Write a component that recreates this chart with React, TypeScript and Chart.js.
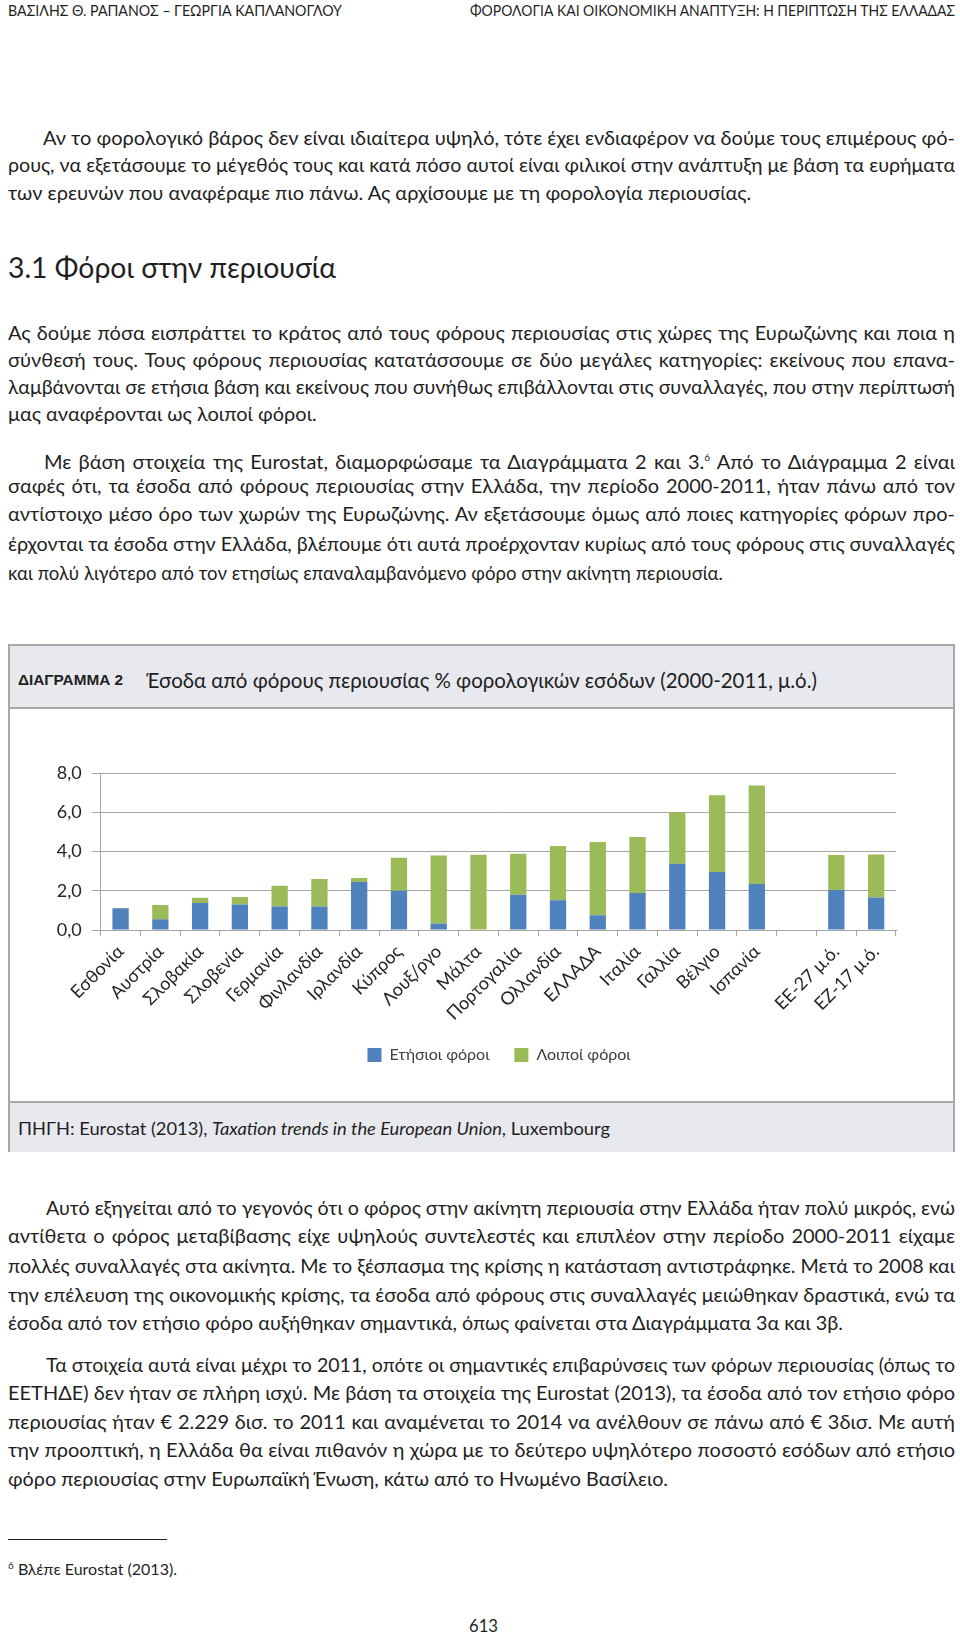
import React, { useEffect, useLayoutEffect, useRef } from "react";
import { Chart, registerables } from "chart.js";
Chart.register(...registerables);

// ---- chart data ----
const categories = [
  "Εσθονία", "Αυστρία", "Σλοβακία", "Σλοβενία", "Γερμανία", "Φινλανδία", "Ιρλανδία",
  "Κύπρος", "Λουξ/ργο", "Μάλτα", "Πορτογαλία", "Ολλανδία", "ΕΛΛΑΔΑ", "Ιταλία",
  "Γαλλία", "Βέλγιο", "Ισπανία", "", "ΕΕ-27 μ.ό.", "ΕΖ-17 μ.ό.",
];
const annualTaxes = [1.11, 0.55, 1.37, 1.30, 1.20, 1.20, 2.45, 2.00, 0.33, 0, 1.80, 1.52, 0.75, 1.88, 3.37, 2.95, 2.35, null, 2.04, 1.66];
const otherTaxes = [0, 0.73, 0.27, 0.38, 1.06, 1.40, 0.20, 1.68, 3.47, 3.84, 2.09, 2.76, 3.74, 2.86, 2.62, 3.92, 5.01, null, 1.78, 2.19];
const seriesNames = ["Ετήσιοι φόροι", "Λοιποί φόροι"];
const yTickLabels = ["0,0", "2,0", "4,0", "6,0", "8,0"];

const TEXT = "#1f1f1f";
const BODY_FONT = 'Lato, "Noto Sans", sans-serif';

type Spec = { t: React.ReactNode; x: number; y: number; w: number; size?: number; family?: string; weight?: number; mode?: "space" | "scale" | "none" };

function Line({ t, x, y, w, size = 20, family = BODY_FONT, weight = 400, mode = "space" }: Spec) {
  const ref = useRef<HTMLDivElement>(null);
  useLayoutEffect(() => {
    const el = ref.current;
    if (!el || mode === "none") return;
    el.style.wordSpacing = "0px";
    el.style.transform = "none";
    const natural = el.getBoundingClientRect().width;
    const spaces = ((el.textContent || "").match(/ /g) || []).length;
    const diff = w - natural;
    if (mode === "space" && spaces > 0 && diff >= 0) {
      el.style.wordSpacing = diff / spaces + "px";
    } else if (natural > 0) {
      el.style.transform = `scaleX(${w / natural})`;
    }
  }, [w]);
  const lh = Math.round(size * 1.3);
  return (
    <div
      ref={ref}
      style={{
        position: "absolute",
        left: x,
        top: y - lh / 2,
        height: lh,
        lineHeight: lh + "px",
        whiteSpace: "nowrap",
        fontSize: size,
        fontFamily: family,
        fontWeight: weight,
        color: TEXT,
        transformOrigin: "left center",
      }}
    >
      {t}
    </div>
  );
}

const IND = 44;
const FULLW = 947;
const bodyLines: Spec[] = [
  { t: "Αν το φορολογικό βάρος δεν είναι ιδιαίτερα υψηλό, τότε έχει ενδιαφέρον να δούμε τους επιμέρους φό-", x: 43, y: 137, w: 955 - 43 },
  { t: "ρους, να εξετάσουμε το μέγεθός τους και κατά πόσο αυτοί είναι φιλικοί στην ανάπτυξη με βάση τα ευρήματα", x: 8, y: 164, w: FULLW },
  { t: "των ερευνών που αναφέραμε πιο πάνω. Ας αρχίσουμε με τη φορολογία περιουσίας.", x: 8, y: 192, w: 0, mode: "none" },

  { t: "Ας δούμε πόσα εισπράττει το κράτος από τους φόρους περιουσίας στις χώρες της Ευρωζώνης και ποια η", x: 8, y: 332, w: FULLW },
  { t: "σύνθεσή τους. Τους φόρους περιουσίας κατατάσσουμε σε δύο μεγάλες κατηγορίες: εκείνους που επανα-", x: 8, y: 359, w: FULLW },
  { t: "λαμβάνονται σε ετήσια βάση και εκείνους που συνήθως επιβάλλονται στις συναλλαγές, που στην περίπτωσή", x: 8, y: 386, w: FULLW },
  { t: "μας αναφέρονται ως λοιποί φόροι.", x: 8, y: 413, w: 0, mode: "none" },

  { t: <>Με βάση στοιχεία της Eurostat, διαμορφώσαμε τα Διαγράμματα 2 και 3.<sup style={{ fontSize: 10, verticalAlign: 8 }}>6</sup> Από το Διάγραμμα 2 είναι</>, x: IND, y: 457, w: 955 - IND },
  { t: "σαφές ότι, τα έσοδα από φόρους περιουσίας στην Ελλάδα, την περίοδο 2000-2011, ήταν πάνω από τον", x: 8, y: 485, w: FULLW },
  { t: "αντίστοιχο μέσο όρο των χωρών της Ευρωζώνης. Αν εξετάσουμε όμως από ποιες κατηγορίες φόρων προ-", x: 8, y: 513, w: FULLW },
  { t: "έρχονται τα έσοδα στην Ελλάδα, βλέπουμε ότι αυτά προέρχονταν κυρίως από τους φόρους στις συναλλαγές", x: 8, y: 543, w: FULLW },
  { t: "και πολύ λιγότερο από τον ετησίως επαναλαμβανόμενο φόρο στην ακίνητη περιουσία.", x: 8, y: 572, w: 715 },

  { t: "Αυτό εξηγείται από το γεγονός ότι ο φόρος στην ακίνητη περιουσία στην Ελλάδα ήταν πολύ μικρός, ενώ", x: 46, y: 1207, w: 955 - 46 },
  { t: "αντίθετα ο φόρος μεταβίβασης είχε υψηλούς συντελεστές και επιπλέον στην περίοδο 2000-2011 είχαμε", x: 8, y: 1235, w: FULLW },
  { t: "πολλές συναλλαγές στα ακίνητα. Με το ξέσπασμα της κρίσης η κατάσταση αντιστράφηκε. Μετά το 2008 και", x: 8, y: 1265, w: FULLW },
  { t: "την επέλευση της οικονομικής κρίσης, τα έσοδα από φόρους στις συναλλαγές μειώθηκαν δραστικά, ενώ τα", x: 8, y: 1294, w: FULLW },
  { t: "έσοδα από τον ετήσιο φόρο αυξήθηκαν σημαντικά, όπως φαίνεται στα Διαγράμματα 3α και 3β.", x: 8, y: 1322, w: 835 },

  { t: "Τα στοιχεία αυτά είναι μέχρι το 2011, οπότε οι σημαντικές επιβαρύνσεις των φόρων περιουσίας (όπως το", x: 46, y: 1364, w: 955 - 46 },
  { t: "ΕΕΤΗΔΕ) δεν ήταν σε πλήρη ισχύ. Με βάση τα στοιχεία της Eurostat (2013), τα έσοδα από τον ετήσιο φόρο", x: 8, y: 1392, w: FULLW },
  { t: "περιουσίας ήταν € 2.229 δισ. το 2011 και αναμένεται το 2014 να ανέλθουν σε πάνω από € 3δισ. Με αυτή", x: 8, y: 1421, w: FULLW },
  { t: "την προοπτική, η Ελλάδα θα είναι πιθανόν η χώρα με το δεύτερο υψηλότερο ποσοστό εσόδων από ετήσιο", x: 8, y: 1449, w: FULLW },
  { t: "φόρο περιουσίας στην Ευρωπαϊκή Ένωση, κάτω από το Ηνωμένο Βασίλειο.", x: 8, y: 1478, w: 660 },
];

const otherLines: Spec[] = [
  { t: "ΒΑΣΙΛΗΣ Θ. ΡΑΠΑΝΟΣ – ΓΕΩΡΓΙΑ ΚΑΠΛΑΝΟΓΛΟΥ", x: 8, y: 9, w: 334, size: 16, mode: "scale" },
  { t: "ΦΟΡΟΛΟΓΙΑ ΚΑΙ ΟΙΚΟΝΟΜΙΚΗ ΑΝΑΠΤΥΞΗ: Η ΠΕΡΙΠΤΩΣΗ ΤΗΣ ΕΛΛΑΔΑΣ", x: 470, y: 9, w: 485, size: 16, mode: "scale" },
  { t: "3.1 Φόροι στην περιουσία", x: 8, y: 267, w: 328, size: 28, mode: "scale" },
  { t: "ΔΙΑΓΡΑΜΜΑ 2", x: 18, y: 680, w: 105, size: 14, weight: 700, family: '"Liberation Sans", Arial, sans-serif', mode: "scale" },
  { t: "Έσοδα από φόρους περιουσίας % φορολογικών εσόδων (2000-2011, μ.ό.)", x: 146, y: 679, w: 671, size: 22, mode: "scale" },
  { t: <>ΠΗΓΗ: Eurostat (2013), <i>Taxation trends in the European Union</i>, Luxembourg</>, x: 18, y: 1128, w: 592, size: 18, mode: "scale" },
  { t: <><sup style={{ fontSize: 10, verticalAlign: 6 }}>6</sup> Βλέπε Eurostat (2013).</>, x: 8, y: 1565, w: 169, size: 16, mode: "scale" },
  { t: "613", x: 469, y: 1626, w: 29, size: 17, mode: "scale" },
];

const legendShift = {
  id: "legendShift",
  afterLayout(chart: any) {
    const lg = chart.legend;
    if (!lg) return;
    const dx = 46;
    const dy = -13;
    lg.left += dx;
    lg.right += dx;
    lg.top += dy;
    lg.bottom += dy;
    if (lg.legendHitBoxes) {
      lg.legendHitBoxes.forEach((h: any) => { h.left += dx; h.top += dy; });
    }
  },
};

function BarChart() {
  const ref = useRef<HTMLCanvasElement>(null);
  useEffect(() => {
    if (!ref.current) return;
    const chart = new Chart(ref.current, {
      type: "bar",
      data: {
        labels: categories,
        datasets: [
          { label: seriesNames[0], data: annualTaxes as any, backgroundColor: "#4F81BD", barPercentage: 0.41, categoryPercentage: 1 },
          { label: seriesNames[1], data: otherTaxes as any, backgroundColor: "#9BBB59", barPercentage: 0.41, categoryPercentage: 1 },
        ],
      },
      plugins: [legendShift],
      options: {
        animation: false,
        responsive: false,
        maintainAspectRatio: false,
        layout: { padding: { left: 0, right: 57, top: 64, bottom: 16 } },
        plugins: {
          tooltip: { enabled: false },
          legend: {
            position: "bottom",
            labels: { boxWidth: 14, boxHeight: 14, padding: 25, color: "#404040", font: { family: BODY_FONT, size: 16 } },
          },
        },
        scales: {
          x: {
            stacked: true,
            grid: { display: true, drawOnChartArea: false, drawTicks: true, tickLength: 6, color: "#A6A6A6", offset: true },
            border: { display: true, color: "#A6A6A6" },
            ticks: { minRotation: 45, maxRotation: 45, autoSkip: false, color: "#262626", font: { family: BODY_FONT, size: 18 }, padding: 5 },
            afterFit: (s: any) => { s.height = 105; },
          },
          y: {
            stacked: true,
            min: 0,
            max: 8,
            ticks: { stepSize: 2, color: "#262626", font: { family: BODY_FONT, size: 18 }, padding: 10, callback: (_v: any, i: number) => yTickLabels[i] },
            grid: { color: "#A6A6A6", tickLength: 9 },
            border: { display: true, color: "#A6A6A6" },
            afterFit: (s: any) => { s.width = 90.7; },
          },
        },
      },
    });
    return () => chart.destroy();
  }, []);
  return <canvas ref={ref} width={943} height={393} style={{ position: "absolute", left: 10, top: 709, width: 943, height: 393 }} />;
}

export default function App() {
  const band = "#E8E9EE";
  const border = "#A8A8A8";
  return (
    <div style={{ position: "absolute", left: 0, top: 0, width: 960, height: 1636, background: "#fff", overflow: "hidden" }}>
      <div style={{ position: "absolute", left: 8, top: 644, width: 947, height: 508, border: `2px solid ${border}`, boxSizing: "border-box", background: "#fff" }} />
      <div style={{ position: "absolute", left: 10, top: 646, width: 943, height: 61, background: band, borderBottom: `2px solid ${border}` }} />
      <div style={{ position: "absolute", left: 10, top: 1101, width: 943, height: 49, background: band, borderTop: `2px solid ${border}` }} />
      <BarChart />
      {otherLines.map((s, i) => <Line key={"o" + i} {...s} />)}
      {bodyLines.map((s, i) => <Line key={"b" + i} {...s} />)}
      <div style={{ position: "absolute", left: 8, top: 1539, width: 159, height: 1, background: "#222" }} />
    </div>
  );
}
